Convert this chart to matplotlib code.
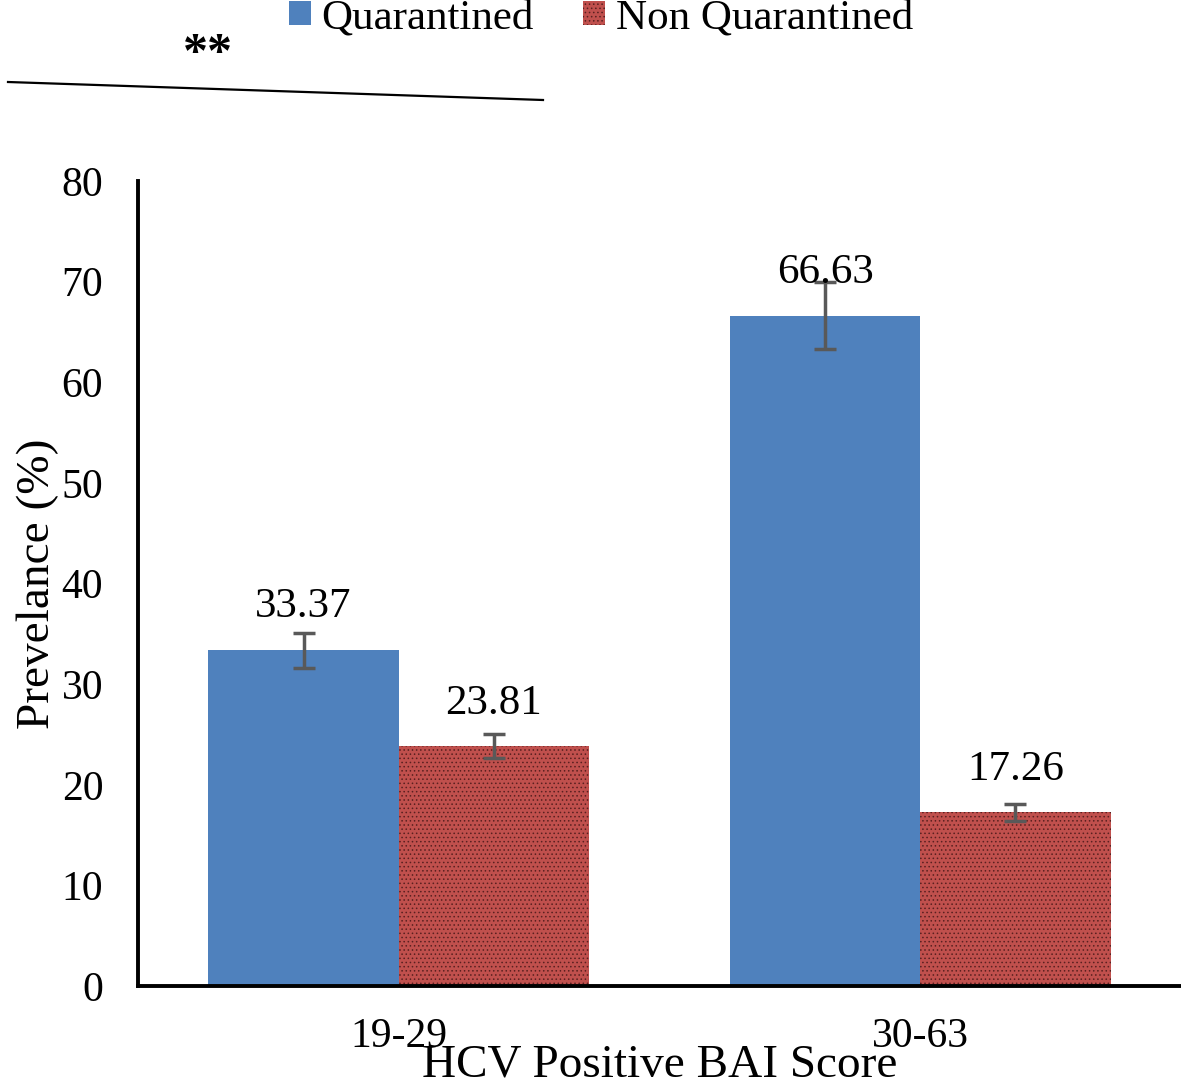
import numpy as np
import matplotlib
matplotlib.use("Agg")
import matplotlib.pyplot as plt

# data
groups = ["19-29", "30-63"]
quarantined = [33.37, 66.63]
non_quarantined = [23.81, 17.26]
q_err = [1.75, 3.35]
nq_err = [1.2, 0.85]

plt.rcParams['font.family'] = ['Liberation Serif', 'DejaVu Serif']
plt.rcParams['hatch.linewidth'] = 0.6

fig = plt.figure(figsize=(11.81, 10.86), dpi=100)
ax = fig.add_axes([138/1181, 1 - 986/1086, 1 - 138/1181, (986 - 181)/1086])

x = np.arange(len(groups))
w = 0.365
blue = "#4F81BD"
red = "#C0504D"

b1 = ax.bar(x - w/2, quarantined, w, color=blue, lw=0, label="Quarantined")
b2 = ax.bar(x + w/2, non_quarantined, w, color=red, lw=0, label="Non Quarantined",
            hatch="....", edgecolor="#5a2020")
ax.errorbar(x - w/2, quarantined, yerr=q_err, fmt="none", ecolor="#595959",
            elinewidth=2.5, capsize=8, capthick=2.5)
ax.errorbar(x + w/2, non_quarantined, yerr=nq_err, fmt="none", ecolor="#595959",
            elinewidth=2.5, capsize=8, capthick=2.5)

for xs, vals in [(x - w/2, quarantined), (x + w/2, non_quarantined)]:
    for xi, v in zip(xs, vals):
        ax.annotate(f"{v:.2f}", (xi, v), xytext=(0, 31), textcoords="offset points",
                    ha="center", va="center", fontsize=31)

ax.set_xlim(-0.5, 1.5)
ax.set_ylim(0, 80)
ax.set_yticks(range(0, 81, 10))
ax.set_xticks(x)
ax.set_xticklabels(groups)
ax.tick_params(axis="both", length=0, labelsize=30)
ax.tick_params(axis="y", pad=25)
ax.tick_params(axis="x", pad=23)
for s in ["top", "right"]:
    ax.spines[s].set_visible(False)
ax.spines["left"].set_linewidth(2.8)
ax.spines["bottom"].set_linewidth(2.8)

ax.set_ylabel("Prevelance (%)", fontsize=34, labelpad=2)
ax.set_xlabel("HCV Positive BAI Score", fontsize=34, labelpad=-9)

fig.legend(handles=[b1, b2], loc="center", bbox_to_anchor=(601/1181, 1 - 18/1086),
           ncol=2, frameon=False, fontsize=31, handlelength=0.5, handleheight=0.5,
           handletextpad=0.25, columnspacing=1.15, borderpad=0)

# significance marker
fig.text(208/1181, 1 - 55/1086, "**", fontsize=36, fontweight="bold",
         ha="center", va="center")
fig.add_artist(plt.Line2D([8/1181, 543/1181], [1 - 82/1086, 1 - 100/1086],
                          color="black", lw=1.6))

fig.savefig("out.png", dpi=100)
